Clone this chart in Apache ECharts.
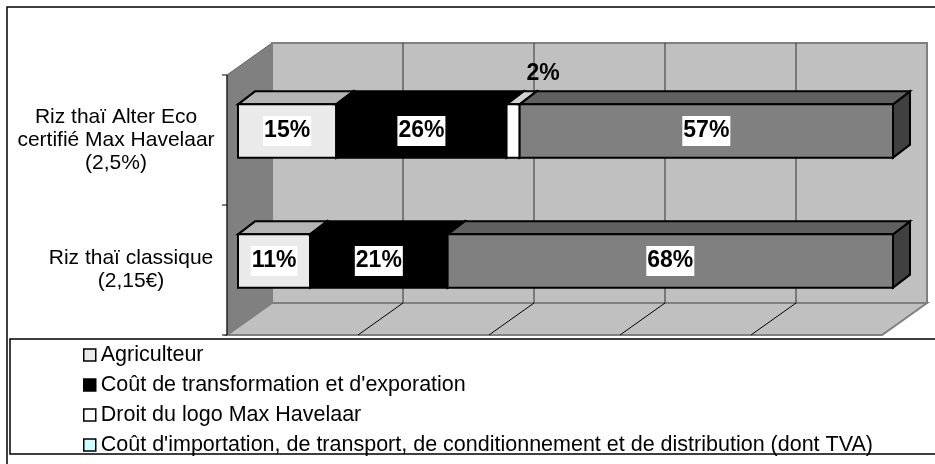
<!DOCTYPE html>
<html lang="fr">
<head>
    <meta http-equiv="Content-Type" content="text/html;charset=utf-8">
    <script type="text/javascript" src="https://cdn.jsdelivr.net/npm/echarts@6/dist/echarts.min.js"></script>
    <title>Riz thaï - répartition du prix</title>
    <style>
        html, body { margin: 0; padding: 0; background: #fff; }
    </style>
</head>
<body>
<div id="main" style="width: 935px;height:464px;"></div>
<script>
    // données (en %)
    var categories = ['Riz thaï classique\n(2,15€)', 'Riz thaï Alter Eco\ncertifié Max Havelaar\n(2,5%)'];
    var seriesNames = [
        'Agriculteur',
        'Coût de transformation et d\'exporation',
        'Droit du logo Max Havelaar',
        'Coût d\'importation, de transport, de conditionnement et de distribution (dont TVA)'
    ];
    var agriculteur = [11, 15];
    var transformation = [21, 26];
    var droitLogo = [0, 2];
    var importation = [68, 57];
    var xTicks = [0, 20, 40, 60, 80, 100];

    var values = [agriculteur, transformation, droitLogo, importation];

    // couleurs des faces (face avant, dessus, côté)
    var faces = [
        {front: '#EAEAEA', top: '#B4B4B4', side: '#9A9A9A'},
        {front: '#000000', top: '#000000', side: '#000000'},
        {front: '#FFFFFF', top: '#D0D0D0', side: '#B0B0B0'},
        {front: '#808080', top: '#606060', side: '#404040'}
    ];
    var legendColors = ['#EAEAEA', '#000000', '#FFFFFF', '#CCFFFF'];

    var FONT = '"Liberation Sans", Arial, sans-serif';
    var DEPTH = [45, -32];      // profondeur des murs
    var BAR_OFF = [11, -9];     // décalage de la face avant des barres
    var BAR_DEPTH = [17, -13];  // profondeur des barres

    function renderWalls(params, api) {
        var cs = params.coordSys;
        var L = cs.x, T = cs.y, R = cs.x + cs.width, B = cs.y + cs.height;
        var dx = DEPTH[0], dy = DEPTH[1];
        var band = api.size([0, 1])[1];
        var children = [
            {type: 'polygon', shape: {points: [[L, T], [L + dx, T + dy], [L + dx, B + dy], [L, B]]},
                style: {fill: '#808080', stroke: '#606060', lineWidth: 1}},
            {type: 'rect', shape: {x: L + dx, y: T + dy, width: R - L, height: B - T},
                style: {fill: '#C0C0C0', stroke: '#808080', lineWidth: 2}},
            {type: 'polygon', shape: {points: [[L, B], [L + dx, B + dy], [R + dx, B + dy], [R, B]]},
                style: {fill: '#C0C0C0', stroke: '#808080', lineWidth: 2}}
        ];
        xTicks.forEach(function (t) {
            if (t === xTicks[0] || t === xTicks[xTicks.length - 1]) return;
            var x = api.coord([t, 0])[0];
            children.push({type: 'line', shape: {x1: x + dx, y1: T + dy, x2: x + dx, y2: B + dy},
                style: {stroke: '#333', lineWidth: 1}});
            children.push({type: 'line', shape: {x1: x + dx, y1: B + dy, x2: x, y2: B},
                style: {stroke: '#000', lineWidth: 1}});
        });
        children.push({type: 'line', shape: {x1: L, y1: T, x2: L, y2: B}, style: {stroke: '#000', lineWidth: 1}});
        for (var i = 0; i <= categories.length; i++) {
            var y = T + i * band;
            children.push({type: 'line', shape: {x1: L - 5, y1: y, x2: L, y2: y}, style: {stroke: '#000', lineWidth: 1}});
        }
        return {type: 'group', children: children};
    }

    function makeBarRenderer(k) {
        var c = faces[k];
        return function (params, api) {
            var cat = api.value(0), s = api.value(1), e = api.value(2), v = api.value(3);
            if (!(v > 0)) return;
            var p0 = api.coord([s, cat]);
            var p1 = api.coord([e, cat]);
            var h = api.size([0, 1])[1] * 0.41;
            var x0 = p0[0] + BAR_OFF[0], x1 = p1[0] + BAR_OFF[0];
            var yc = p0[1] + BAR_OFF[1];
            var yT = yc - h / 2, yB = yc + h / 2;
            var dx = BAR_DEPTH[0], dy = BAR_DEPTH[1];
            var children = [
                {type: 'polygon', shape: {points: [[x1, yT], [x1 + dx, yT + dy], [x1 + dx, yB + dy], [x1, yB]]},
                    style: {fill: c.side, stroke: '#000', lineWidth: 2}},
                {type: 'polygon', shape: {points: [[x0, yT], [x0 + dx, yT + dy], [x1 + dx, yT + dy], [x1, yT]]},
                    style: {fill: c.top, stroke: '#000', lineWidth: 2}},
                {type: 'rect', shape: {x: x0, y: yT, width: x1 - x0, height: h},
                    style: {fill: c.front, stroke: '#000', lineWidth: 2}}
            ];
            var txt = v + '%';
            if (x1 - x0 > 40) {
                children.push({type: 'text', style: {
                    text: txt, x: (x0 + x1) / 2, y: yc, align: 'center', verticalAlign: 'middle',
                    font: 'bold 23px ' + FONT, fill: '#000', backgroundColor: '#fff', padding: [4, 1, 3, 1]
                }});
            } else {
                children.push({type: 'text', style: {
                    text: txt, x: (x0 + x1) / 2 + 30, y: yT - 31, align: 'center', verticalAlign: 'middle',
                    font: 'bold 23px ' + FONT, fill: '#000'
                }});
            }
            return {type: 'group', children: children};
        };
    }

    var myChart = echarts.init(document.getElementById('main'));

    var series = [{
        type: 'custom',
        name: 'walls',
        silent: true,
        renderItem: renderWalls,
        data: [[0, 0]],
        encode: {x: 0, y: 1},
        z: 1
    }];
    values.forEach(function (arr, k) {
        var data = arr.map(function (v, i) {
            var start = 0;
            for (var j = 0; j < k; j++) start += values[j][i];
            return [i, start, start + v, v];
        });
        series.push({
            type: 'custom',
            name: seriesNames[k],
            renderItem: makeBarRenderer(k),
            itemStyle: {color: faces[k].front},
            encode: {x: [1, 2], y: 0},
            data: data,
            z: 2 + k
        });
    });

    var option = {
        animation: false,
        graphic: [
            {type: 'rect', shape: {x: 7, y: 7, width: 940, height: 470},
                style: {fill: '#fff', stroke: '#000', lineWidth: 1.5}, z: -10},
            {type: 'rect', shape: {x: 10, y: 339, width: 940, height: 115},
                style: {fill: '#fff', stroke: '#000', lineWidth: 1.5}, z: -9}
        ],
        grid: {left: 227, right: 53, top: 75, bottom: 129},
        xAxis: {
            type: 'value', min: 0, max: 100, interval: 20,
            axisLine: {show: false}, axisTick: {show: false}, axisLabel: {show: false}, splitLine: {show: false}
        },
        yAxis: {
            type: 'category',
            data: categories,
            axisLine: {show: false},
            axisTick: {show: false},
            splitLine: {show: false},
            axisLabel: {
                margin: 12,
                formatter: function (value, index) {
                    return value.split('\n').map(function (l) {
                        return '{c' + index + '|' + l + '}';
                    }).join('\n');
                },
                rich: {
                    c0: {width: 168, align: 'center', fontSize: 21, lineHeight: 23, fontFamily: FONT, color: '#000'},
                    c1: {width: 198, align: 'center', fontSize: 21, lineHeight: 23, fontFamily: FONT, color: '#000'}
                }
            }
        },
        legend: {
            orient: 'vertical',
            left: 83,
            top: 344,
            padding: 0,
            itemGap: 8,
            itemWidth: 12,
            itemHeight: 12,
            icon: 'rect',
            itemStyle: {borderColor: '#000', borderWidth: 1.5},
            textStyle: {fontSize: 21.5, lineHeight: 21, fontFamily: FONT, color: '#000', padding: [0, 0, 0, 0]},
            data: seriesNames.map(function (n, k) {
                return {name: n, itemStyle: {color: legendColors[k], borderColor: '#000', borderWidth: 1.5}};
            })
        },
        series: series
    };
    myChart.setOption(option);
</script>
</body>
</html>
